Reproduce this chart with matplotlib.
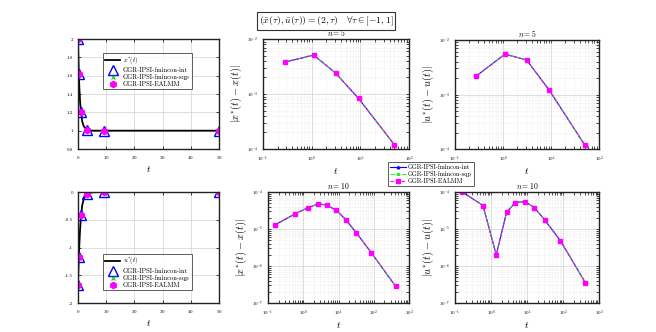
import matplotlib
matplotlib.use("Agg")
import matplotlib.pyplot as plt
import numpy as np

plt.rcParams['mathtext.fontset'] = 'cm'
plt.rcParams['font.family'] = 'serif'
plt.rcParams['font.serif'] = ['cmr10', 'DejaVu Serif']
plt.rcParams['axes.formatter.use_mathtext'] = True
plt.rcParams['axes.unicode_minus'] = False

# ---- data ----
# state / control over time, n = 5 collocation solution
t5 = [0.0, 0.28, 1.1, 3.1, 9.2, 50.0]
x5 = [2.0, 1.62, 1.20, 1.01, 1.0, 1.0]
u5 = [-1.68, -1.17, -0.41, -0.03, 0.0, 0.0]
# exact solution curve
t_ex = [0, 0.1, 0.2, 0.28, 0.5, 0.75, 1.1, 1.5, 2, 3.1, 5, 9.2, 50]
x_ex = [2.0, 1.85, 1.72, 1.62, 1.45, 1.31, 1.20, 1.10, 1.05, 1.01, 1.0, 1.0, 1.0]
u_ex = [-1.68, -1.48, -1.31, -1.17, -0.92, -0.66, -0.41, -0.24, -0.13, -0.03, -0.005, 0.0, 0.0]

# errors, n = 5
te5 = [0.28, 1.1, 3.1, 9.2, 50.0]
ex5 = [3.8e-3, 5.1e-3, 2.4e-3, 8.3e-4, 1.2e-4]
eu5 = [2.2e-3, 5.5e-3, 4.3e-3, 1.2e-3, 1.2e-4]
# errors, n = 10
te10 = [0.16, 0.6, 1.4, 2.7, 4.7, 8.7, 16, 32, 85, 420]
ex10 = [1.3e-5, 2.6e-5, 3.8e-5, 4.8e-5, 4.4e-5, 3.2e-5, 1.8e-5, 7.9e-6, 2.3e-6, 2.8e-7]
eu10 = [1.0e-4, 4.3e-5, 2.0e-6, 2.8e-5, 5.2e-5, 5.5e-5, 3.8e-5, 1.7e-5, 4.8e-6, 3.5e-7]

names = ['GGR-IPSI-fmincon-int', 'GGR-IPSI-fmincon-sqp', 'GGR-IPSI-EALMM']

W, H = 656, 332
fig = plt.figure(figsize=(W / 100, H / 100), dpi=100)

def box(l, r, t, b):
    return [l / W, (H - b) / H, (r - l) / W, (b - t) / H]

def style(ax):
    ax.tick_params(labelsize=3.5, length=2, width=0.5, direction='in', top=True, right=True, which='both')
    for s in ax.spines.values():
        s.set_linewidth(1.0)
        s.set_color('#222222')
    ax.grid(True, which='major', color='#d0d0d0', lw=0.5)

def state_plot(ax, y_ex, y_pts, lab, loc):
    ax.plot(t_ex, y_ex, color='k', lw=1.3, label=lab)
    ax.plot(t5, y_pts, ls='none', marker='^', ms=6.5, mfc='none', mec='blue', mew=1.0, label=names[0])
    ax.plot(t5, y_pts, ls='none', marker='x', ms=2.5, mec='#22cc22', mew=0.9, label=names[1])
    ax.plot(t5, y_pts, ls='none', marker='h', ms=4.5, mfc='magenta', mec='magenta', label=names[2])
    ax.set_xlim(0, 50)
    ax.set_xticks([0, 10, 20, 30, 40, 50])
    ax.set_xlabel(r'$t$', fontsize=7, labelpad=2)
    style(ax)
    lg = ax.legend(loc=loc, fontsize=4.7, fancybox=False, edgecolor='#333333',
                   borderpad=0.3, handlelength=2.2, labelspacing=0.15, handletextpad=0.5)
    lg.get_frame().set_linewidth(0.7)

ax1 = fig.add_axes(box(78, 219, 39, 149))
state_plot(ax1, x_ex, x5, r'$x^{*}(t)$', 'upper right')
ax1.set_ylim(0.8, 2.0)
ax1.set_yticks([0.8, 1.0, 1.2, 1.4, 1.6, 1.8, 2.0])
ax1.set_yticklabels(['0.8', '1', '1.2', '1.4', '1.6', '1.8', '2'])
ax1.legend_.set_bbox_to_anchor((0.83, 0.9))

ax2 = fig.add_axes(box(78, 219, 192, 303))
state_plot(ax2, u_ex, u5, r'$u^{*}(t)$', 'lower right')
ax2.set_ylim(-2, 0)
ax2.set_yticks([-2, -1.5, -1, -0.5, 0])
ax2.set_yticklabels(['-2', '-1.5', '-1', '-0.5', '0'])
ax2.legend_.set_bbox_to_anchor((0.83, 0.09))

def err_plot(ax, t, e, title, ylab, xlim, ylim):
    l1, = ax.plot(t, e, color='blue', lw=0.8, marker='^', ms=1.8)
    l2, = ax.plot(t, e, color='#22ee22', lw=0.8, ls='--', marker='x', ms=1.8)
    l3, = ax.plot(t, e, color='magenta', lw=0.8, ls=(0, (3, 2)), marker='s', ms=3)
    ax.set_xscale('log')
    ax.set_yscale('log')
    ax.set_xlim(*xlim)
    ax.set_ylim(*ylim)
    ax.set_title(title, fontsize=5.5, pad=2)
    ax.set_xlabel(r'$t$', fontsize=7, labelpad=2)
    ax.set_ylabel(ylab, fontsize=7.5, labelpad=2)
    style(ax)
    ax.grid(True, which='minor', color='#dddddd', lw=0.4, ls=':')
    return l1, l2, l3

xl = r'$|x^{*}(t)-x(t)|$'
ul = r'$|u^{*}(t)-u(t)|$'
ax3 = fig.add_axes(box(263, 409, 39, 149))
err_plot(ax3, te5, ex5, r'$n=5$', xl, (1e-1, 1e2), (1e-4, 1e-2))
ax4 = fig.add_axes(box(455, 599, 40, 149))
err_plot(ax4, te5, eu5, r'$n=5$', ul, (1e-1, 1e2), (1e-4, 1e-2))
ax5 = fig.add_axes(box(268, 409, 192, 303))
err_plot(ax5, te10, ex10, r'$n=10$', xl, (1e-1, 1e3), (1e-7, 1e-4))
ax6 = fig.add_axes(box(455, 599, 192, 303))
handles = err_plot(ax6, te10, eu10, r'$n=10$', ul, (1e-1, 1e3), (1e-7, 1e-4))

lg = fig.legend(handles, names, loc='center', bbox_to_anchor=(431 / W, 1 - 174 / H),
                fontsize=4.5, fancybox=False, edgecolor='#333333', borderpad=0.3,
                handlelength=2.5, labelspacing=0.15, handletextpad=0.3)
lg.get_frame().set_linewidth(0.7)

fig.text(326 / W, 1 - 21 / H,
         r'$(\bar{x}(\tau),\bar{u}(\tau))=(2,\tau)\quad\forall\tau\in[-1,1]$',
         ha='center', va='center', fontsize=7,
         bbox=dict(boxstyle='square,pad=0.2', fc='white', ec='#333333', lw=0.8))

fig.savefig('out.png', dpi=100)
